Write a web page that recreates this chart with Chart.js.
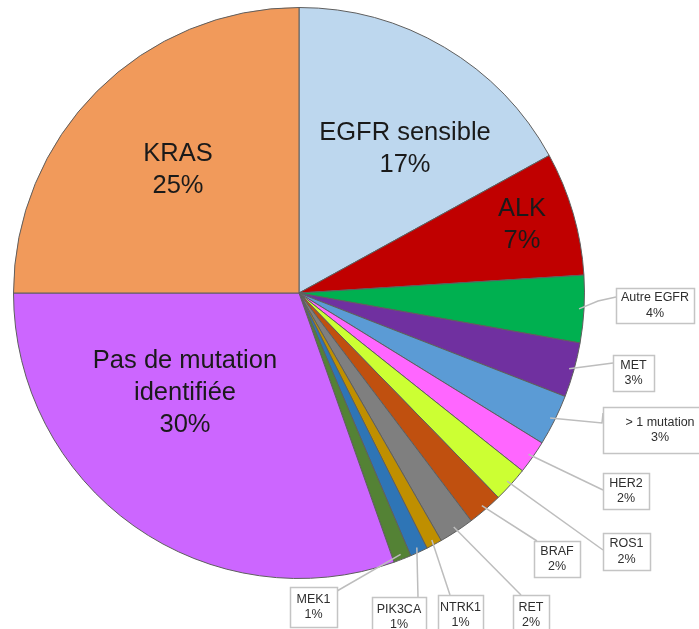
<!DOCTYPE html>
<html>
<head>
<meta charset="utf-8">
<script src="https://cdn.jsdelivr.net/npm/chart.js@4/dist/chart.umd.min.js"></script>
<style>
html,body{margin:0;padding:0;background:#fff;}
#c{display:block;}
</style>
</head>
<body>
<canvas id="c" width="699" height="629"></canvas>
<script>
// ---- data ----
const categories = ['EGFR sensible','ALK','Autre EGFR','MET','> 1 mutation','HER2','ROS1','BRAF','RET','NTRK1','PIK3CA','MEK1','Pas de mutation\nidentifiée','KRAS'];
const values     = [17.0, 7.0, 3.8, 3.1, 2.9, 1.9, 2.0, 2.0, 2.0, 0.9, 1.0, 1.0, 30.4, 25.0];
const pctLabels  = ['17%','7%','4%','3%','3%','2%','2%','2%','2%','1%','1%','1%','30%','25%'];
const colors     = ['#bdd7ee','#c00000','#00b050','#7030a0','#5b9bd5','#ff66ff','#ccff33','#c0500f','#7f7f7f','#bf8f00','#2e75b6','#548235','#cc66ff','#f19a5b'];

// ---- label layout (styling / placement only) ----
const innerLabels = {   // offsets from pie centre of the text block centre
  0:  {dx: 106, dy: -144},
  1:  {dx: 223, dy: -68},
  12: {dx: -114, dy: 100},
  13: {dx: -121, dy: -123}
};
const calloutBoxes = {  // box [x,y,w,h], line end point on box
  2:  {box:[616,288,78,35], via:[598,301], end:[616,297]},
  3:  {box:[613,355,41,36], end:[613,363]},
  4:  {box:[603,407,100,46], via:[602,423], end:[603,413], textX: 57},
  5:  {box:[603,473,46,36], end:[603,490]},
  6:  {box:[603,533,47,37], end:[603,550]},
  7:  {box:[534,541,46,36], end:[537,541]},
  8:  {box:[513,595,36,40], end:[521,595]},
  9:  {box:[438,595,45,40], end:[450,595]},
  10: {box:[372,597,54,40], end:[418,597]},
  11: {box:[290,587,47,40], end:[337,591]}
};

const labelPlugin = {
  id: 'labelPlugin',
  afterDatasetsDraw(chart) {
    const ctx = chart.ctx;
    const arcs = chart.getDatasetMeta(0).data;
    ctx.save();
    // inner labels
    ctx.fillStyle = '#1a1a1a';
    ctx.font = '25.5px "Liberation Sans", Arial, sans-serif';
    ctx.textAlign = 'center';
    ctx.textBaseline = 'middle';
    Object.keys(innerLabels).forEach(k => {
      const i = +k, a = arcs[i], L = innerLabels[k];
      const lines = categories[i].split('\n').concat([pctLabels[i]]);
      const lh = 32;
      const cx = a.x + L.dx, cy = a.y + L.dy;
      const top = cy - (lines.length - 1) * lh / 2;
      lines.forEach((t, j) => ctx.fillText(t, cx, top + j * lh));
    });
    // callouts
    Object.keys(calloutBoxes).forEach(k => {
      const i = +k, a = arcs[i], C = calloutBoxes[k];
      const mid = (a.startAngle + a.endAngle) / 2;
      const r = a.outerRadius - 5;
      const sx = a.x + Math.cos(mid) * r, sy = a.y + Math.sin(mid) * r;
      ctx.strokeStyle = '#bdbdbd';
      ctx.lineWidth = 1.5;
      ctx.beginPath();
      ctx.moveTo(sx, sy);
      if (C.via) ctx.lineTo(C.via[0], C.via[1]);
      ctx.lineTo(C.end[0], C.end[1]);
      ctx.stroke();
      const [bx, by, bw, bh] = C.box;
      ctx.fillStyle = '#fff';
      ctx.fillRect(bx, by, bw, bh);
      ctx.strokeStyle = '#c4c4c4';
      ctx.strokeRect(bx + 0.5, by + 0.5, bw, bh);
      ctx.fillStyle = '#2e2e2e';
      ctx.font = '12.5px "Liberation Sans", Arial, sans-serif';
      const tx = C.textX ? bx + C.textX : bx + bw / 2;
      const ty = by + bh / 2;
      ctx.fillText(categories[i], tx, ty - 7.5);
      ctx.fillText(pctLabels[i], tx, ty + 8);
    });
    ctx.restore();
  }
};

new Chart(document.getElementById('c'), {
  type: 'pie',
  data: {
    labels: categories,
    datasets: [{
      data: values,
      backgroundColor: colors,
      borderColor: '#5e5e5e',
      borderWidth: 1
    }]
  },
  options: {
    responsive: false,
    animation: false,
    layout: { padding: { left: 13, top: 7, right: 114, bottom: 50 } },
    plugins: { legend: { display: false }, tooltip: { enabled: false } }
  },
  plugins: [labelPlugin]
});
</script>
</body>
</html>
